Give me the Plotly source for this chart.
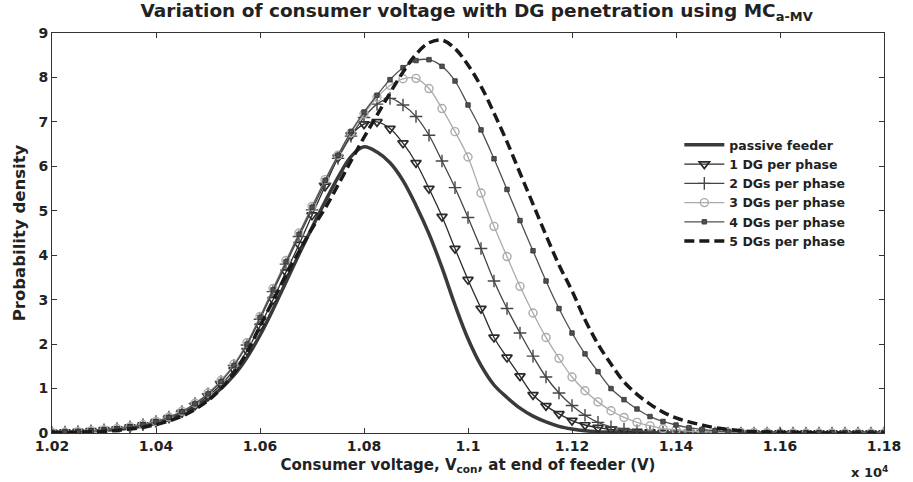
import plotly.graph_objects as go

# Consumer voltage at end of feeder (V)
volts = [10200, 10225, 10250, 10275, 10300, 10325, 10350, 10375,
         10400, 10425, 10450, 10475, 10500, 10525, 10550, 10575,
         10600, 10625, 10650, 10675, 10700, 10725, 10750, 10775,
         10800, 10825, 10850, 10875, 10900, 10925, 10950, 10975,
         11000, 11025, 11050, 11075, 11100, 11125, 11150, 11175,
         11200, 11225, 11250, 11275, 11300, 11325, 11350, 11375,
         11400, 11425, 11450, 11475, 11500, 11525, 11550, 11575,
         11600, 11625, 11650, 11675, 11700, 11725, 11750, 11775, 11800]

passive = [0.01, 0.02, 0.03, 0.04, 0.06, 0.08, 0.11, 0.16,
           0.22, 0.31, 0.42, 0.57, 0.76, 1.00, 1.30, 1.70,
           2.20, 2.78, 3.40, 4.02, 4.62, 5.20, 5.75, 6.22,
           6.44, 6.32, 6.08, 5.68, 5.12, 4.48, 3.72, 2.88,
           2.12, 1.52, 1.08, 0.80, 0.56, 0.38, 0.25, 0.15,
           0.09, 0.05, 0.03, 0.02, 0.01, 0.01, 0.0, 0.0,
           0.0, 0.0, 0.0, 0.0, 0.0, 0.0, 0.0, 0.0,
           0.0, 0.0, 0.0, 0.0, 0.0, 0.0, 0.0, 0.0, 0.0]

dg1 = [0.01, 0.02, 0.03, 0.05, 0.07, 0.09, 0.13, 0.18,
       0.25, 0.34, 0.46, 0.62, 0.83, 1.09, 1.42, 1.85,
       2.40, 3.00, 3.62, 4.24, 4.90, 5.55, 6.20, 6.70,
       6.95, 7.00, 6.85, 6.52, 6.08, 5.50, 4.87, 4.15,
       3.45, 2.80, 2.15, 1.70, 1.28, 0.86, 0.61, 0.43,
       0.28, 0.18, 0.12, 0.08, 0.05, 0.03, 0.02, 0.01,
       0.01, 0.01, 0.0, 0.0, 0.0, 0.0, 0.0, 0.0,
       0.0, 0.0, 0.0, 0.0, 0.0, 0.0, 0.0, 0.0, 0.0]

dg2 = [0.01, 0.02, 0.03, 0.05, 0.07, 0.10, 0.14, 0.19,
       0.26, 0.36, 0.48, 0.66, 0.88, 1.16, 1.52, 1.98,
       2.56, 3.18, 3.80, 4.42, 5.02, 5.62, 6.18, 6.68,
       7.10, 7.40, 7.53, 7.38, 7.12, 6.70, 6.12, 5.52,
       4.85, 4.15, 3.42, 2.80, 2.25, 1.73, 1.26, 0.90,
       0.62, 0.40, 0.24, 0.14, 0.09, 0.05, 0.03, 0.02,
       0.01, 0.01, 0.01, 0.0, 0.0, 0.0, 0.0, 0.0,
       0.0, 0.0, 0.0, 0.0, 0.0, 0.0, 0.0, 0.0, 0.0]

dg3 = [0.01, 0.02, 0.03, 0.05, 0.07, 0.10, 0.14, 0.19,
       0.26, 0.36, 0.49, 0.67, 0.90, 1.18, 1.55, 2.03,
       2.62, 3.25, 3.88, 4.50, 5.10, 5.70, 6.25, 6.75,
       7.18, 7.55, 7.82, 7.97, 7.98, 7.75, 7.30, 6.78,
       6.21, 5.40, 4.65, 3.97, 3.30, 2.70, 2.15, 1.68,
       1.26, 0.95, 0.70, 0.50, 0.35, 0.24, 0.16, 0.10,
       0.07, 0.04, 0.03, 0.02, 0.01, 0.01, 0.01, 0.01,
       0.0, 0.0, 0.0, 0.0, 0.0, 0.0, 0.0, 0.0, 0.0]

dg4 = [0.01, 0.02, 0.03, 0.04, 0.06, 0.09, 0.13, 0.18,
       0.25, 0.35, 0.48, 0.66, 0.88, 1.16, 1.52, 2.00,
       2.60, 3.22, 3.85, 4.47, 5.08, 5.68, 6.25, 6.78,
       7.22, 7.60, 7.95, 8.22, 8.38, 8.40, 8.25, 7.92,
       7.38, 6.82, 6.17, 5.48, 4.78, 4.10, 3.42, 2.80,
       2.25, 1.78, 1.38, 1.00, 0.75, 0.54, 0.37, 0.26,
       0.18, 0.12, 0.08, 0.05, 0.03, 0.02, 0.01, 0.01,
       0.01, 0.0, 0.0, 0.0, 0.0, 0.0, 0.0, 0.0, 0.0]

dg5 = [0.01, 0.01, 0.02, 0.03, 0.04, 0.06, 0.09, 0.13,
       0.19, 0.27, 0.38, 0.53, 0.73, 1.00, 1.35, 1.82,
       2.40, 2.98, 3.55, 4.08, 4.60, 5.05, 5.58, 6.12,
       6.65, 7.15, 7.65, 8.12, 8.52, 8.78, 8.84, 8.65,
       8.28, 7.80, 7.20, 6.55, 5.85, 5.15, 4.45, 3.78,
       3.20, 2.55, 2.00, 1.55, 1.15, 0.87, 0.65, 0.47,
       0.34, 0.25, 0.18, 0.12, 0.08, 0.05, 0.03, 0.02,
       0.01, 0.01, 0.01, 0.0, 0.0, 0.0, 0.0, 0.0, 0.0]

x_tickvals = [10200, 10400, 10600, 10800, 11000, 11200, 11400, 11600, 11800]
x_ticktext = ["1.02", "1.04", "1.06", "1.08", "1.1", "1.12", "1.14", "1.16", "1.18"]
y_tickvals = [0, 1, 2, 3, 4, 5, 6, 7, 8, 9]

FONT = "'DejaVu Sans', Verdana, sans-serif"
INK = "#222222"

fig = go.Figure()

fig.add_trace(go.Scatter(
    x=volts, y=passive, name="passive feeder", mode="lines",
    line=dict(color="#3a3a3a", width=3.5, shape="spline")))

fig.add_trace(go.Scatter(
    x=volts, y=dg1, name="1 DG per phase", mode="lines+markers",
    line=dict(color="#2a2a2a", width=1.3, shape="spline"),
    marker=dict(symbol="triangle-down-open", size=9, color="#2a2a2a",
                line=dict(width=1.7, color="#2a2a2a"))))

fig.add_trace(go.Scatter(
    x=volts, y=dg2, name="2 DGs per phase", mode="lines+markers",
    line=dict(color="#454545", width=1.3, shape="spline"),
    marker=dict(symbol="cross-thin-open", size=9, color="#454545",
                line=dict(width=1.4, color="#454545"))))

fig.add_trace(go.Scatter(
    x=volts, y=dg3, name="3 DGs per phase", mode="lines+markers",
    line=dict(color="#ababab", width=1.3, shape="spline"),
    marker=dict(symbol="circle-open", size=8, color="#ababab",
                line=dict(width=1.4, color="#ababab"))))

fig.add_trace(go.Scatter(
    x=volts, y=dg4, name="4 DGs per phase", mode="lines+markers",
    line=dict(color="#505050", width=1.3, shape="spline"),
    marker=dict(symbol="square", size=4.5, color="#505050",
                line=dict(width=0.8, color="#303030"))))

fig.add_trace(go.Scatter(
    x=volts, y=dg5, name="5 DGs per phase", mode="lines",
    line=dict(color="#1a1a1a", width=3.5, dash="10px,5px", shape="spline")))

axis_common = dict(
    showline=True, linecolor="#333333", linewidth=1, mirror="ticks",
    ticks="inside", ticklen=5, tickcolor="#333333", showgrid=False,
    zeroline=False,
    tickfont=dict(family=FONT, size=14, color=INK, weight="bold"),
)

fig.update_layout(
    width=913, height=482,
    margin=dict(l=52, r=16, t=33, b=49),
    paper_bgcolor="white", plot_bgcolor="white",
    title=dict(
        text="Variation of consumer voltage with DG penetration using MC<sub>a-MV</sub>",
        x=0.522, xanchor="center", y=0.992, yanchor="top",
        font=dict(family=FONT, size=18.5, color=INK, weight="bold")),
    xaxis=dict(
        range=[10200, 11800], tickvals=x_tickvals, ticktext=x_ticktext,
        ticklabeloverflow="allow",
        title=dict(text="Consumer voltage, V<sub>con</sub>, at end of feeder (V)",
                   standoff=6,
                   font=dict(family=FONT, size=15, color=INK, weight="bold")),
        **axis_common),
    yaxis=dict(
        range=[0, 9], tickvals=y_tickvals,
        title=dict(text="Probability density", standoff=8,
                   font=dict(family=FONT, size=16.5, color=INK, weight="bold")),
        **axis_common),
    legend=dict(
        x=0.754, y=0.757, xanchor="left", yanchor="top",
        bgcolor="rgba(255,255,255,0)", borderwidth=0,
        font=dict(family=FONT, size=12.5, color=INK, weight="bold"),
        tracegroupgap=0, itemwidth=40),
    showlegend=True,
)

fig.add_annotation(
    text="x 10<sup>4</sup>", xref="paper", yref="paper",
    x=0.982, y=-0.097, xanchor="center", yanchor="middle", showarrow=False,
    font=dict(family=FONT, size=13, color=INK, weight="bold"))

fig.write_html("out.html")
